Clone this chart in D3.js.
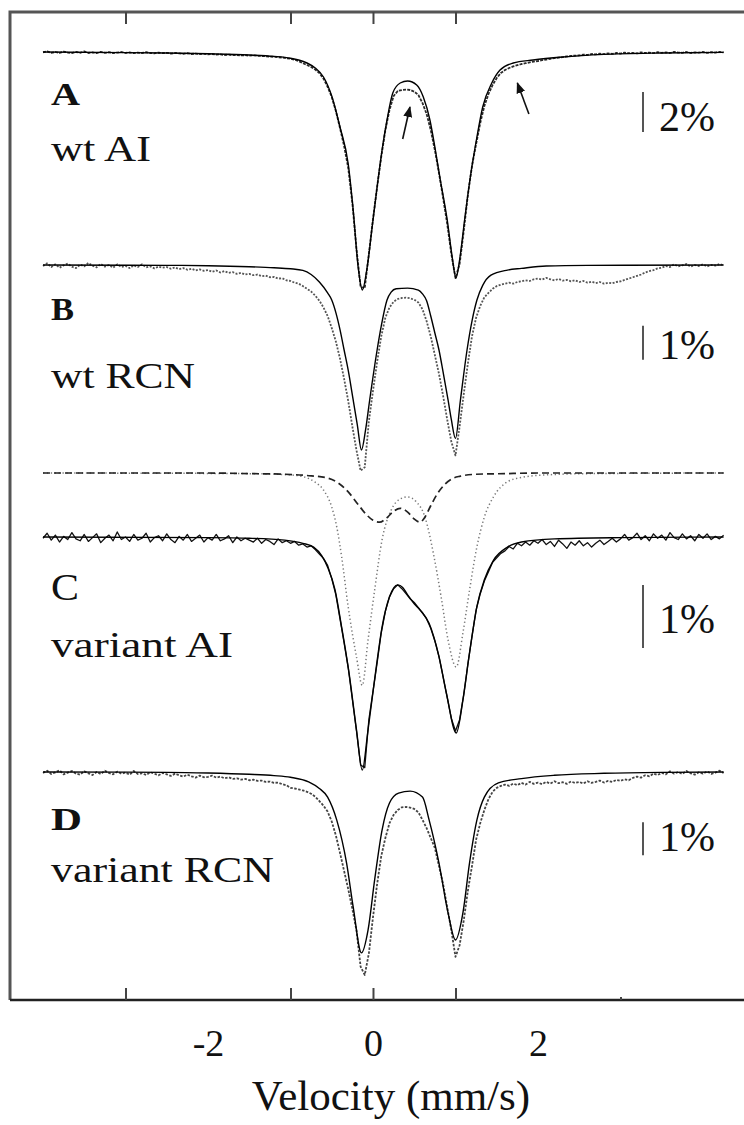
<!DOCTYPE html>
<html><head><meta charset="utf-8">
<script src="https://cdn.jsdelivr.net/npm/d3@7"></script>
<style>html,body{margin:0;padding:0;background:#fff;} svg{display:block;}</style>
</head><body><svg id="chart" width="744" height="1125"></svg>
<script>
// ---------- DATA ----------
const velocity = [
-4,-3.95,-3.9,-3.85,-3.8,-3.75,-3.7,-3.65,-3.6,-3.55,
-3.5,-3.45,-3.4,-3.35,-3.3,-3.25,-3.2,-3.15,-3.1,-3.05,
-3,-2.95,-2.9,-2.85,-2.8,-2.75,-2.7,-2.65,-2.6,-2.55,
-2.5,-2.45,-2.4,-2.35,-2.3,-2.25,-2.2,-2.15,-2.1,-2.05,
-2,-1.95,-1.9,-1.85,-1.8,-1.75,-1.7,-1.65,-1.6,-1.55,
-1.5,-1.45,-1.4,-1.35,-1.3,-1.25,-1.2,-1.15,-1.1,-1.05,
-1,-0.95,-0.9,-0.85,-0.8,-0.75,-0.7,-0.65,-0.6,-0.55,
-0.5,-0.45,-0.4,-0.35,-0.3,-0.25,-0.2,-0.15,-0.1,-0.05,
0,0.05,0.1,0.15,0.2,0.25,0.3,0.35,0.4,0.45,
0.5,0.55,0.6,0.65,0.7,0.75,0.8,0.85,0.9,0.95,
1,1.05,1.1,1.15,1.2,1.25,1.3,1.35,1.4,1.45,
1.5,1.55,1.6,1.65,1.7,1.75,1.8,1.85,1.9,1.95,
2,2.05,2.1,2.15,2.2,2.25,2.3,2.35,2.4,2.45,
2.5,2.55,2.6,2.65,2.7,2.75,2.8,2.85,2.9,2.95,
3,3.05,3.1,3.15,3.2,3.25,3.3,3.35,3.4,3.45,
3.5,3.55,3.6,3.65,3.7,3.75,3.8,3.85,3.9,3.95,
4,4.05,4.1,4.15,4.2,4.25];

// absorption (%) below baseline, one value per velocity
const dataA = [
0.02,-0.03,0.04,0.00,0.05,-0.02,0.03,0.06,0.00,0.04,
-0.03,0.05,0.02,0.06,-0.01,0.04,0.01,0.05,0.03,0.00,
0.05,0.02,0.06,0.03,0.05,0.01,0.05,0.07,0.03,0.06,
0.04,0.08,0.05,0.07,0.09,0.06,0.10,0.08,0.11,0.09,
0.12,0.10,0.13,0.12,0.15,0.13,0.16,0.15,0.17,0.16,
0.18,0.17,0.19,0.20,0.21,0.23,0.24,0.26,0.28,0.31,
0.34,0.39,0.46,0.56,0.65,0.75,0.88,1.05,1.33,1.74,
2.25,2.95,3.80,4.70,5.80,7.55,9.85,11.75,11.8,10.1,
8.35,6.75,5.25,3.9,2.9,2.2,1.95,1.9,1.88,1.9,
1.98,2.15,2.55,3.1,3.9,4.9,6.05,7.3,8.6,10.1,
11.3,10.6,8.95,7.15,5.7,4.6,3.55,2.7,2.1,1.65,
1.3,1.05,0.9,0.8,0.72,0.66,0.6,0.56,0.52,0.48,
0.45,0.41,0.38,0.34,0.31,0.28,0.26,0.22,0.20,0.18,
0.17,0.13,0.15,0.10,0.12,0.08,0.11,0.07,0.09,0.05,
0.08,0.03,0.06,0.04,0.07,0.02,0.05,0.03,0.06,0.01,
0.04,0.02,0.05,-0.01,0.03,0.04,0.00,0.05,0.02,0.03,
0.00,0.04,0.01,0.03,-0.01,0.02];

const dataB = [
0.03,-0.05,0.06,-0.02,0.08,0.01,-0.04,0.05,0.09,-0.01,
0.04,-0.06,0.02,0.07,-0.03,0.05,0.00,0.08,-0.02,0.06,
0.03,0.09,0.01,0.06,-0.02,0.07,0.04,0.10,0.05,0.08,
0.06,0.11,0.07,0.12,0.09,0.14,0.11,0.16,0.13,0.17,
0.15,0.20,0.16,0.22,0.18,0.23,0.21,0.26,0.23,0.28,
0.26,0.30,0.28,0.33,0.31,0.36,0.35,0.40,0.39,0.45,
0.47,0.52,0.55,0.62,0.70,0.78,0.90,1.05,1.25,1.5,
1.85,2.25,2.75,3.35,4.0,4.75,5.45,6.05,5.95,4.6,
3.7,2.85,2.1,1.55,1.25,1.08,1.0,0.97,0.96,0.98,
1.02,1.1,1.3,1.65,2.1,2.65,3.2,3.85,4.55,5.2,
5.6,4.75,3.8,2.9,2.1,1.55,1.2,0.95,0.82,0.7,
0.62,0.58,0.55,0.52,0.55,0.5,0.48,0.45,0.47,0.42,
0.4,0.43,0.38,0.42,0.45,0.41,0.46,0.44,0.48,0.45,
0.5,0.47,0.52,0.49,0.53,0.5,0.55,0.52,0.54,0.5,
0.48,0.44,0.4,0.36,0.32,0.28,0.22,0.18,0.15,0.1,
0.08,0.03,0.06,-0.02,0.04,0.01,-0.03,0.05,0.00,0.03,
-0.02,0.04,0.00,0.02,-0.03,0.01];

const dataC = [
0.02,-0.06,0.05,-0.03,0.08,-0.01,0.04,-0.07,0.03,0.06,
-0.04,0.07,0.01,-0.05,0.09,0.02,-0.03,0.06,-0.08,0.04,
0.00,0.07,-0.04,0.05,0.02,-0.06,0.08,0.01,-0.02,0.06,
-0.05,0.04,0.09,-0.01,0.05,-0.04,0.07,0.02,-0.03,0.08,
0.01,0.05,-0.04,0.06,0.03,-0.02,0.09,0.00,0.06,0.02,
0.05,0.08,0.02,0.10,0.04,0.07,0.12,0.03,0.09,0.06,
0.1,0.07,0.13,0.11,0.16,0.14,0.2,0.27,0.34,0.45,
0.66,0.92,1.3,1.68,2.08,2.58,3.08,3.62,3.66,2.9,
2.45,2.0,1.52,1.18,0.95,0.82,0.76,0.82,0.9,0.98,
1.04,1.12,1.2,1.3,1.45,1.65,1.9,2.22,2.55,2.88,
3.08,2.9,2.5,2.02,1.58,1.16,0.9,0.7,0.55,0.4,
0.33,0.26,0.22,0.15,0.19,0.1,0.14,0.08,0.13,0.06,
0.1,0.04,0.12,0.07,0.15,0.05,0.11,0.18,0.08,0.13,
0.06,0.14,0.09,0.16,0.1,0.05,0.12,0.07,0.02,0.08,
0.03,-0.04,0.05,0.01,-0.06,0.04,-0.02,0.06,-0.05,0.02,
-0.03,0.05,-0.07,0.01,0.04,-0.05,0.03,-0.02,0.06,-0.04,
0.02,-0.05,0.04,-0.01,0.03,-0.03];

const dataD = [
0.03,-0.04,0.06,0.01,-0.05,0.07,0.02,-0.03,0.05,0.08,
-0.02,0.04,0.09,0.0,0.06,-0.04,0.03,0.07,-0.01,0.05,
0.02,0.08,-0.03,0.06,0.04,0.09,0.01,0.05,0.1,0.03,
0.07,0.12,0.05,0.1,0.14,0.08,0.13,0.17,0.11,0.16,
0.15,0.11,0.17,0.14,0.19,0.16,0.21,0.19,0.23,0.21,
0.25,0.23,0.27,0.26,0.3,0.29,0.33,0.32,0.37,0.4,
0.48,0.5,0.53,0.56,0.6,0.66,0.75,0.88,1.02,1.2,
1.5,1.92,2.45,3.0,3.55,4.15,4.8,5.9,6.15,5.5,
4.4,3.4,2.55,2.0,1.55,1.3,1.15,1.07,1.06,1.08,
1.12,1.22,1.45,1.7,2.0,2.3,2.85,3.4,4.1,4.8,
5.6,5.25,4.5,3.6,2.85,2.05,1.55,1.15,0.82,0.6,
0.48,0.42,0.38,0.42,0.35,0.4,0.33,0.38,0.3,0.36,
0.32,0.37,0.3,0.35,0.28,0.34,0.31,0.36,0.29,0.33,
0.3,0.35,0.28,0.33,0.3,0.26,0.32,0.27,0.3,0.24,
0.27,0.22,0.25,0.18,0.14,0.17,0.1,0.13,0.05,0.09,
0.03,0.07,-0.02,0.05,0.0,0.06,-0.03,0.04,0.08,0.01,
0.05,-0.02,0.06,0.02,-0.04,0.03];

// fitted curves: [velocity, absorption %]
const fitA = [[-4,0],[-3,0.03],[-2.5,0.05],[-2,0.09],[-1.5,0.15],[-1.2,0.22],[-1,0.31],[-0.9,0.4],[-0.8,0.55],[-0.7,0.8],[-0.6,1.25],[-0.5,2.2],[-0.4,3.75],[-0.3,5.6],[-0.24,7.9],[-0.18,10.75],[-0.13,11.9],[-0.07,10.75],[-0.01,8.75],[0.05,6.75],[0.11,4.9],[0.17,3.4],[0.24,2.05],[0.33,1.55],[0.42,1.45],[0.53,1.65],[0.61,2.25],[0.69,3.4],[0.75,4.75],[0.81,6.25],[0.9,8.4],[0.96,10.25],[1.006,11.3],[1.055,10.25],[1.115,8.25],[1.18,6.25],[1.26,4.25],[1.33,2.75],[1.44,1.55],[1.54,0.9],[1.7,0.55],[1.94,0.4],[2.3,0.25],[2.8,0.12],[3.5,0.05],[4.25,0.02]];
const fitB = [[-4,0],[-2.5,0.01],[-2,0.02],[-1.5,0.05],[-1.2,0.08],[-1,0.11],[-0.85,0.16],[-0.75,0.28],[-0.65,0.5],[-0.55,0.82],[-0.5,1.03],[-0.45,1.4],[-0.4,1.9],[-0.35,2.5],[-0.3,3.1],[-0.24,3.97],[-0.19,4.7],[-0.14,5.44],[-0.09,4.85],[-0.04,3.97],[0.05,2.5],[0.1,1.8],[0.17,1.03],[0.22,0.8],[0.28,0.7],[0.42,0.68],[0.55,0.74],[0.6,0.85],[0.65,1.05],[0.7,1.5],[0.75,2.0],[0.8,2.5],[0.85,3.15],[0.91,3.97],[0.95,4.55],[1.0,5.1],[1.06,3.97],[1.14,2.5],[1.2,1.65],[1.26,1.03],[1.33,0.6],[1.43,0.3],[1.63,0.15],[1.8,0.1],[2.1,0.03],[2.6,0.01],[4.25,0]];
const fitC = [[-4,0],[-2,0.01],[-1.5,0.02],[-1.07,0.05],[-0.85,0.1],[-0.72,0.16],[-0.62,0.3],[-0.55,0.48],[-0.46,0.84],[-0.38,1.43],[-0.29,2.16],[-0.2,3.06],[-0.13,3.7],[-0.06,3.06],[0.03,2.16],[0.11,1.43],[0.2,0.95],[0.3,0.76],[0.36,0.8],[0.42,0.92],[0.5,1.06],[0.57,1.16],[0.68,1.37],[0.8,1.9],[0.89,2.48],[1.01,3.11],[1.09,2.59],[1.17,1.84],[1.26,1.1],[1.35,0.68],[1.46,0.37],[1.63,0.16],[1.8,0.08],[2.2,0.03],[3,0.01],[4.25,0]];
const fitD = [[-4,0],[-2.5,0.01],[-2,0.03],[-1.5,0.07],[-1.2,0.11],[-1,0.16],[-0.78,0.3],[-0.65,0.5],[-0.55,0.76],[-0.44,1.45],[-0.32,2.76],[-0.24,4.09],[-0.14,5.48],[-0.06,4.79],[0.02,3.27],[0.11,1.76],[0.2,0.94],[0.31,0.64],[0.45,0.58],[0.6,0.76],[0.68,1.45],[0.8,2.76],[0.91,4.27],[1.0,5.09],[1.09,4.27],[1.17,2.76],[1.26,1.45],[1.35,0.76],[1.52,0.33],[1.8,0.2],[2.2,0.1],[2.8,0.04],[3.5,0.01],[4.25,0]];

// fit components of spectrum C
const compDashed = [[-4,0],[-2,0],[-1.5,0.01],[-1.07,0.02],[-0.8,0.04],[-0.55,0.08],[-0.42,0.16],[-0.3,0.3],[-0.18,0.5],[-0.08,0.66],[0.0,0.75],[0.08,0.78],[0.16,0.72],[0.24,0.62],[0.33,0.56],[0.42,0.62],[0.5,0.73],[0.57,0.78],[0.63,0.7],[0.7,0.52],[0.78,0.33],[0.87,0.18],[0.96,0.09],[1.06,0.05],[1.25,0.02],[1.6,0.01],[2,0],[4.25,0]];
const compDotted = [[-4,0],[-1.5,0.01],[-1.0,0.03],[-0.84,0.06],[-0.72,0.13],[-0.6,0.27],[-0.5,0.54],[-0.44,0.85],[-0.38,1.33],[-0.3,2.13],[-0.2,2.92],[-0.13,3.37],[-0.06,2.65],[0.02,1.86],[0.11,1.06],[0.22,0.59],[0.32,0.42],[0.42,0.38],[0.52,0.45],[0.63,0.7],[0.74,1.33],[0.83,2.0],[0.91,2.65],[1.01,3.08],[1.09,2.54],[1.17,1.86],[1.26,1.17],[1.35,0.7],[1.46,0.38],[1.63,0.14],[1.8,0.07],[2.1,0.03],[2.6,0.01],[4.25,0]];

const panelLetters = ["A","B","C","D"];
const panelNames = ["wt AI","wt RCN","variant AI","variant RCN"];
const scaleLabels = ["2%","1%","1%","1%"];
const scaleSizes = [2,1,1,1];
const axisTicks = [-3,-1,0,1];
const minorTicks = [3];
const tickLabels = [-2,0,2];
const xTitle = "Velocity (mm/s)";
// arrows in panel A: [velocity, absorption %]
const arrowsA = [[[0.36,4.35],[0.448,2.75]],[[1.89,3.1],[1.75,1.55]]];

// ---------- LAYOUT ----------
const svg = d3.select("#chart");
svg.append("rect").attr("width",744).attr("height",1125).attr("fill","#fff");
const x = d3.scaleLinear().domain([-4,4.25]).range([43,723.6]);
const serif = "'Liberation Serif','Times New Roman',serif";

const layout = [
  {base:52,  px:20, barFrom:2.0,  letterY:105, nameY:161, letterW:29, nameW:100, pctY:131, bold:true,  lsize:32,
   data:dataA, fit:fitA, stroke:"#2a2a2a", width:1.8, dash:"3,1.2"},
  {base:265, px:34, barFrom:1.79, letterY:320, nameY:388, letterW:23, nameW:144, pctY:359, bold:true,  lsize:32,
   data:dataB, fit:fitB, stroke:"#555", width:1.8, dash:"2,1.5"},
  {base:537, px:63, barFrom:0.76, letterY:600, nameY:657, letterW:28, nameW:182, pctY:633, bold:false, lsize:38,
   data:dataC, fit:fitC, stroke:"#111", width:1.3, dash:null},
  {base:772, px:33, barFrom:1.52, letterY:830, nameY:882, letterW:31, nameW:223, pctY:851, bold:true,  lsize:32,
   data:dataD, fit:fitD, stroke:"#444", width:1.8, dash:"2.5,1.5"}
];

// frame
svg.append("path").attr("d","M10,1000 V12 H760").attr("fill","none").attr("stroke","#555").attr("stroke-width",3);
svg.append("path").attr("d","M10,1000 H760").attr("fill","none").attr("stroke","#222").attr("stroke-width",2.5);

// axes ticks
const axTop = svg.append("g").attr("transform","translate(0,12)")
  .call(d3.axisTop(x).tickValues(axisTicks).tickSize(-12).tickFormat(""));
const axBot = svg.append("g").attr("transform","translate(0,1000)")
  .call(d3.axisBottom(x).tickValues(axisTicks).tickSize(-12).tickFormat(""));
const axBot2 = svg.append("g").attr("transform","translate(0,1000)")
  .call(d3.axisBottom(x).tickValues(minorTicks).tickSize(-3).tickFormat(""));
const axLab = svg.append("g").attr("transform","translate(0,1000)")
  .call(d3.axisBottom(x).tickValues(tickLabels).tickSize(0).tickPadding(29).tickFormat(d=>String(d)));
[axTop,axBot,axBot2,axLab].forEach(g=>{
  g.select(".domain").remove();
  g.selectAll(".tick line").attr("stroke","#444").attr("stroke-width",2);
});
axLab.selectAll("text").attr("font-family",serif).attr("font-size",38).attr("fill","#111");

svg.append("text").attr("x",391).attr("y",1110).attr("text-anchor","middle")
  .attr("font-family",serif).attr("font-size",43).attr("fill","#111").text(xTitle);

// component curves (C)
const yComp = d3.scaleLinear().domain([0,1]).range([473,473+63]);
const compLine = d3.line().x(d=>x(d[0])).y(d=>yComp(d[1])).curve(d3.curveMonotoneX);
svg.append("path").datum(compDotted).attr("d",compLine).attr("fill","none")
  .attr("stroke","#777").attr("stroke-width",1.5).attr("stroke-dasharray","1.3,2.6");
svg.append("path").datum(compDashed).attr("d",compLine).attr("fill","none")
  .attr("stroke","#222").attr("stroke-width",1.7).attr("stroke-dasharray","7,4");

const defs = svg.append("defs");
defs.append("marker").attr("id","ah").attr("viewBox","0 0 10 10").attr("refX",9).attr("refY",5)
  .attr("markerWidth",7).attr("markerHeight",7).attr("orient","auto")
  .append("path").attr("d","M0,1 L10,5 L0,9 Z").attr("fill","#111");

// panels
layout.forEach((p,i)=>{
  const y = d3.scaleLinear().domain([0,1]).range([p.base,p.base+p.px]);
  const g = svg.append("g");
  const dLine = d3.line().x((d,j)=>x(velocity[j])).y(d=>y(d));
  const fLine = d3.line().x(d=>x(d[0])).y(d=>y(d[1])).curve(d3.curveMonotoneX);
  const dp = g.append("path").datum(p.data).attr("d",dLine).attr("fill","none")
    .attr("stroke",p.stroke).attr("stroke-width",p.width).attr("stroke-linejoin","round");
  if(p.dash) dp.attr("stroke-dasharray",p.dash);
  g.append("path").datum(p.fit).attr("d",fLine).attr("fill","none")
    .attr("stroke","#000").attr("stroke-width",1.4);

  g.append("line").attr("x1",643).attr("x2",643)
    .attr("y1",y(p.barFrom)).attr("y2",y(p.barFrom+scaleSizes[i]))
    .attr("stroke","#555").attr("stroke-width",2);
  g.append("text").attr("x",659).attr("y",p.pctY).attr("font-family",serif)
    .attr("font-size",42).attr("fill","#111").text(scaleLabels[i]);

  g.append("text").attr("x",51).attr("y",p.letterY).attr("font-family",serif)
    .attr("font-size",p.lsize).attr("font-weight",p.bold?"bold":"normal").attr("fill","#111")
    .attr("textLength",p.letterW).attr("lengthAdjust","spacingAndGlyphs").text(panelLetters[i]);
  g.append("text").attr("x",51).attr("y",p.nameY).attr("font-family",serif)
    .attr("font-size",35).attr("fill","#111")
    .attr("textLength",p.nameW).attr("lengthAdjust","spacingAndGlyphs").text(panelNames[i]);

  if(i===0){
    arrowsA.forEach(a=>{
      g.append("line").attr("x1",x(a[0][0])).attr("y1",y(a[0][1]))
        .attr("x2",x(a[1][0])).attr("y2",y(a[1][1]))
        .attr("stroke","#111").attr("stroke-width",1.6).attr("marker-end","url(#ah)");
    });
  }
});
</script></body></html>
